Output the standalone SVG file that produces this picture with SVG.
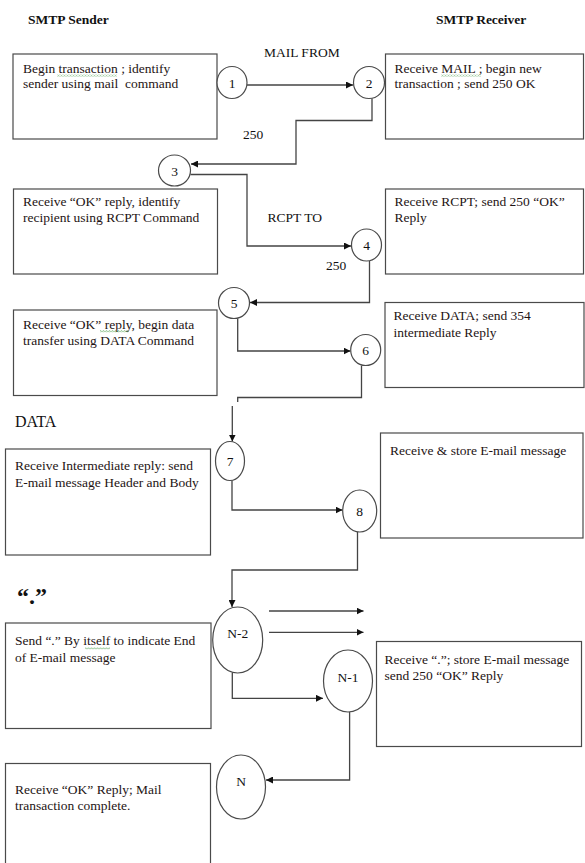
<svg xmlns="http://www.w3.org/2000/svg" width="585" height="863" viewBox="0 0 585 863">
<style>
  text { font-family: "Liberation Serif", "Times New Roman", serif; font-size: 13.5px; fill: #1e1414; white-space: pre; }
  .hdr { font-weight: bold; font-size: 13.5px; fill: #111; }
  .lbl { fill: #111; }
  .num { text-anchor: middle; fill: #111; font-size: 13.5px; }
  .box { fill: #fff; stroke: #4a4a4a; stroke-width: 1.2; }
  .node { fill: #fff; stroke: #4a4a4a; stroke-width: 1.2; }
  .conn { fill: none; stroke: #444; stroke-width: 1.3; }
  .arr { marker-end: url(#ah); }
  .wavy { fill: url(#wv); }
</style>
<defs>
  <marker id="ah" viewBox="0 0 10 10" refX="10" refY="5" markerWidth="7" markerHeight="7" markerUnits="userSpaceOnUse" orient="auto">
    <path d="M0,0 L10,5 L0,10 z" fill="#111"/>
  </marker>
  <pattern id="wv" width="3" height="2.5" patternUnits="userSpaceOnUse">
    <path d="M0,2 L1.5,0.5 L3,2" fill="none" stroke="#5aa55a" stroke-width="0.8"/>
  </pattern>
</defs>
<rect width="585" height="863" fill="#fff"/>

<text class="hdr" x="28" y="24">SMTP Sender</text>
<text class="hdr" x="436" y="24">SMTP Receiver</text>

<g id="box1">
  <rect class="box" x="13" y="54" width="204" height="85"/>
  <text x="23" y="72.5">Begin transaction ; identify</text>
  <text x="23" y="88">sender using mail  command</text>
  <rect class="wavy" x="57" y="74" width="60" height="2.5"/>
</g>
<g id="box2">
  <rect class="box" x="385.5" y="54" width="198" height="85"/>
  <text x="394.5" y="72.5">Receive MAIL ; begin new</text>
  <text x="394.5" y="88">transaction ; send 250 OK</text>
  <rect class="wavy" x="441" y="74" width="40" height="2.5"/>
</g>
<g id="box3">
  <rect class="box" x="13.5" y="189" width="204" height="85"/>
  <text x="23" y="205.5">Receive “OK” reply, identify</text>
  <text x="23" y="221.5">recipient using RCPT Command</text>
</g>
<g id="box4">
  <rect class="box" x="385.5" y="189" width="198" height="85"/>
  <text x="394.5" y="205.5">Receive RCPT; send 250 “OK”</text>
  <text x="394.5" y="221.5">Reply</text>
</g>
<g id="box5">
  <rect class="box" x="13.5" y="310" width="203.5" height="85.5"/>
  <text x="23" y="328.5">Receive “OK” reply, begin data</text>
  <text x="23" y="344.5">transfer using DATA Command</text>
  <rect class="wavy" x="100" y="330" width="29" height="2.5"/>
</g>
<g id="box6">
  <rect class="box" x="385" y="302.5" width="199" height="85"/>
  <text x="393.5" y="320">Receive DATA; send 354</text>
  <text x="393.5" y="336.5">intermediate Reply</text>
</g>
<g id="box7">
  <rect class="box" x="5.5" y="449" width="205" height="106"/>
  <text x="15" y="470">Receive Intermediate reply: send</text>
  <text x="15" y="486.5">E-mail message Header and Body</text>
</g>
<g id="box8">
  <rect class="box" x="380.5" y="433" width="202.5" height="105"/>
  <text x="390" y="455">Receive &amp; store E-mail message</text>
</g>
<g id="boxN2">
  <rect class="box" x="5.5" y="623" width="205.5" height="105.5"/>
  <text x="15" y="645">Send “.” By itself to indicate End</text>
  <text x="15" y="661.5">of E-mail message</text>
  <rect class="wavy" x="85" y="647" width="25" height="2.5"/>
</g>
<g id="boxN1">
  <rect class="box" x="376.5" y="641.5" width="205" height="105"/>
  <text x="384.5" y="663.5">Receive “.”; store E-mail message</text>
  <text x="384.5" y="680">send 250 “OK” Reply</text>
</g>
<g id="boxN">
  <rect class="box" x="5.5" y="763.5" width="205" height="110"/>
  <text x="15" y="793.5">Receive “OK” Reply; Mail</text>
  <text x="15" y="809.5">transaction complete.</text>
</g>

<g id="connectors">
  <path class="conn arr" d="M247,85 H353"/>
  <path class="conn arr" d="M372,98.5 V120.5 H296 V164 H191"/>
  <path class="conn arr" d="M190.5,174.5 H247 V246 H351"/>
  <path class="conn arr" d="M369.5,261 V302.5 H250"/>
  <path class="conn arr" d="M237.7,318.5 V351 H350.5"/>
  <path class="conn" d="M361.5,365.5 V397.5 H237.7 V402"/>
  <path class="conn arr" d="M232.3,406 V441.5"/>
  <path class="conn arr" d="M232,480.5 V510 H342.5"/>
  <path class="conn arr" d="M357.5,532 V570 H232 V607"/>
  <path class="conn arr" d="M269,611 H363.5"/>
  <path class="conn arr" d="M269,632.3 H363.5"/>
  <path class="conn arr" d="M232.3,673 V698.3 H323"/>
  <path class="conn arr" d="M349.6,712 V780 H266"/>
  <text class="lbl" x="264" y="57">MAIL FROM</text>
  <text class="lbl" x="243" y="139">250</text>
  <text class="lbl" x="267.5" y="222">RCPT TO</text>
  <text class="lbl" x="326" y="270">250</text>
  <text class="lbl" x="15" y="427" style="font-size:16px">DATA</text>
  <text class="lbl" x="17" y="604" style="font-size:24px;font-weight:bold">“.”</text>
</g>

<g id="n1"><ellipse class="node" cx="232" cy="82.5" rx="15" ry="16"/><text class="num" x="232" y="87.5">1</text></g>
<g id="n2"><ellipse class="node" cx="369" cy="82.5" rx="15.5" ry="16"/><text class="num" x="369" y="87.5">2</text></g>
<g id="n3"><ellipse class="node" cx="174.5" cy="170.5" rx="16" ry="15.5"/><text class="num" x="174.5" y="175.5">3</text></g>
<g id="n4"><ellipse class="node" cx="366.5" cy="245" rx="15" ry="16"/><text class="num" x="366.5" y="250">4</text></g>
<g id="n5"><ellipse class="node" cx="234" cy="303" rx="15.5" ry="15.5"/><text class="num" x="234" y="308">5</text></g>
<g id="n6"><ellipse class="node" cx="365.7" cy="350" rx="15" ry="15.5"/><text class="num" x="365.7" y="355">6</text></g>
<g id="n7"><ellipse class="node" cx="230" cy="461" rx="14.5" ry="19.5"/><text class="num" x="230" y="466">7</text></g>
<g id="n8"><ellipse class="node" cx="359.7" cy="511" rx="17" ry="21"/><text class="num" x="359.7" y="516">8</text></g>
<g id="nN2"><ellipse class="node" cx="237.7" cy="640" rx="25" ry="33"/><text class="num" x="237.7" y="638">N-2</text></g>
<g id="nN1"><ellipse class="node" cx="348" cy="681" rx="24.5" ry="31"/><text class="num" x="348" y="682">N-1</text></g>
<g id="nN"><ellipse class="node" cx="241" cy="787" rx="24.5" ry="32"/><text class="num" x="241" y="786">N</text></g>
</svg>
